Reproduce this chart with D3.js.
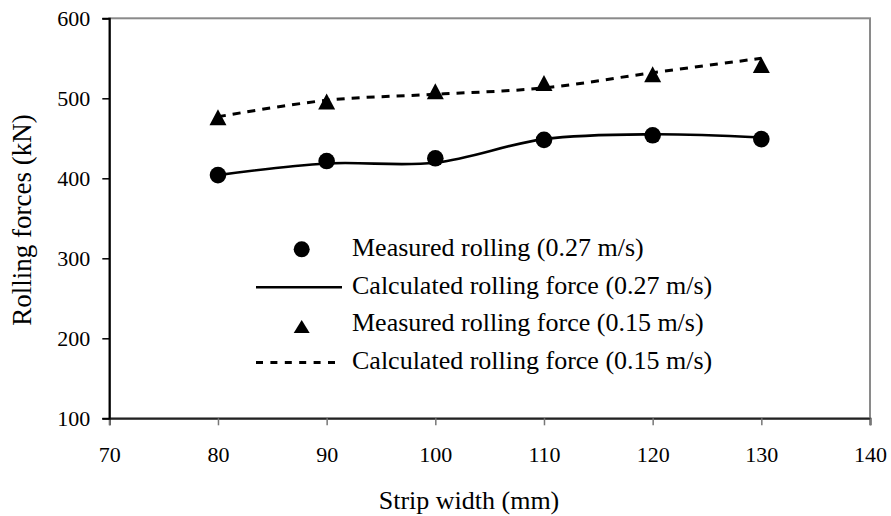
<!DOCTYPE html>
<html>
<head>
<meta charset="utf-8">
<script src="https://cdn.jsdelivr.net/npm/d3@7"></script>
<style>
  html, body { margin: 0; padding: 0; background: #fff; }
  svg { display: block; }
  text { font-family: "Liberation Serif", "Times New Roman", serif; fill: #000; }
</style>
</head>
<body>
<svg id="chart" width="891" height="516"></svg>
<script>
// Strip widths (mm)
const widths = [80, 90, 100, 110, 120, 130];
// Rolling force at 0.27 m/s (kN)
const measured027 = [404, 421.6, 425, 448, 453.8, 449];
const calculated027 = [404, 418.5, 419.5, 449, 455, 451];
// Rolling force at 0.15 m/s (kN)
const measured015 = [476.4, 496, 508.8, 519, 530, 541.6];
const calculated015 = [477, 497.5, 505, 513, 532, 550];

const xTicks = [70, 80, 90, 100, 110, 120, 130, 140];
const yTicks = [100, 200, 300, 400, 500, 600];

const legendLabels = [
  "Measured rolling (0.27 m/s)",
  "Calculated rolling force (0.27 m/s)",
  "Measured rolling force (0.15 m/s)",
  "Calculated rolling force (0.15 m/s)"
];

const svg = d3.select("#chart");
const plotL = 109.3, plotR = 870, plotT = 18.3, plotB = 418.3;

const x = d3.scaleLinear().domain([70, 140]).range([plotL, plotR]);
const y = d3.scaleLinear().domain([100, 600]).range([plotB, plotT]);

svg.append("rect").attr("width", 891).attr("height", 516).attr("fill", "#fff");

// Plot frame (grey top and right edges)
svg.append("rect")
  .attr("x", plotL).attr("y", plotT)
  .attr("width", plotR - plotL).attr("height", plotB - plotT)
  .attr("fill", "none").attr("stroke", "#8a8a8a").attr("stroke-width", 2);

// Axes
const xAxis = svg.append("g")
  .attr("transform", `translate(0,${plotB})`)
  .call(d3.axisBottom(x).tickValues(xTicks).tickSize(7).tickPadding(21).tickFormat(d3.format("d")));
xAxis.select(".domain").attr("stroke", "#222").attr("stroke-width", 2);
xAxis.selectAll(".tick line").attr("stroke", "#777").attr("stroke-width", 1.5);
xAxis.selectAll(".tick text").style("font-size", "22px").attr("font-family", null);

const yAxis = svg.append("g")
  .attr("transform", `translate(${plotL},0)`)
  .call(d3.axisLeft(y).tickValues(yTicks).tickSize(7).tickPadding(12).tickFormat(d3.format("d")));
yAxis.select(".domain").attr("stroke", "#000").attr("stroke-width", 2);
yAxis.selectAll(".tick line").attr("stroke", "#000").attr("stroke-width", 1.5);
yAxis.selectAll(".tick text").style("font-size", "22px").attr("font-family", null);
svg.selectAll(".tick text").attr("fill", "#000");

// Axis titles
svg.append("text")
  .attr("x", 469).attr("y", 509)
  .attr("text-anchor", "middle").style("font-size", "26px")
  .text("Strip width (mm)");
svg.append("text")
  .attr("transform", "translate(30.5,220) rotate(-90)")
  .attr("text-anchor", "middle").style("font-size", "27px")
  .text("Rolling forces (kN)");

// Calculated curves
const line = d3.line().x((d, i) => x(widths[i])).y(d => y(d)).curve(d3.curveCatmullRom.alpha(0.5));
svg.append("path").datum(calculated027)
  .attr("d", line).attr("fill", "none").attr("stroke", "#000").attr("stroke-width", 2.6);
svg.append("path").datum(calculated015)
  .attr("d", line).attr("fill", "none").attr("stroke", "#000").attr("stroke-width", 3)
  .attr("stroke-dasharray", "8,7");

// Triangle marker centred on its bounding box
function triangle(cx, cy, w, h) {
  const p = d3.path();
  p.moveTo(cx, cy - h / 2);
  p.lineTo(cx + w / 2, cy + h / 2);
  p.lineTo(cx - w / 2, cy + h / 2);
  p.closePath();
  return p.toString();
}

// Measured points
svg.append("g").selectAll("circle").data(measured027).join("circle")
  .attr("cx", (d, i) => x(widths[i])).attr("cy", d => y(d)).attr("r", 8.3).attr("fill", "#000");
svg.append("g").selectAll("path").data(measured015).join("path")
  .attr("d", (d, i) => triangle(x(widths[i]), y(d), 17, 16)).attr("fill", "#000");

// Legend
const lg = svg.append("g");
const symX = 301.7, textX = 352, base0 = 256, rowH = 37.7;
lg.selectAll("text").data(legendLabels).join("text")
  .attr("x", textX).attr("y", (d, i) => base0 + i * rowH)
  .style("font-size", "26px").text(d => d);
lg.append("circle").attr("cx", symX).attr("cy", base0 - 6.7).attr("r", 8).attr("fill", "#000");
lg.append("line").attr("x1", 256).attr("x2", 342)
  .attr("y1", base0 + rowH - 6.5).attr("y2", base0 + rowH - 6.5)
  .attr("stroke", "#000").attr("stroke-width", 2.6);
lg.append("path").attr("d", triangle(symX, base0 + 2 * rowH - 5, 16, 13)).attr("fill", "#000");
lg.append("line").attr("x1", 256).attr("x2", 342)
  .attr("y1", base0 + 3 * rowH - 6.5).attr("y2", base0 + 3 * rowH - 6.5)
  .attr("stroke", "#000").attr("stroke-width", 3).attr("stroke-dasharray", "7,7.4");
</script>
</body>
</html>
